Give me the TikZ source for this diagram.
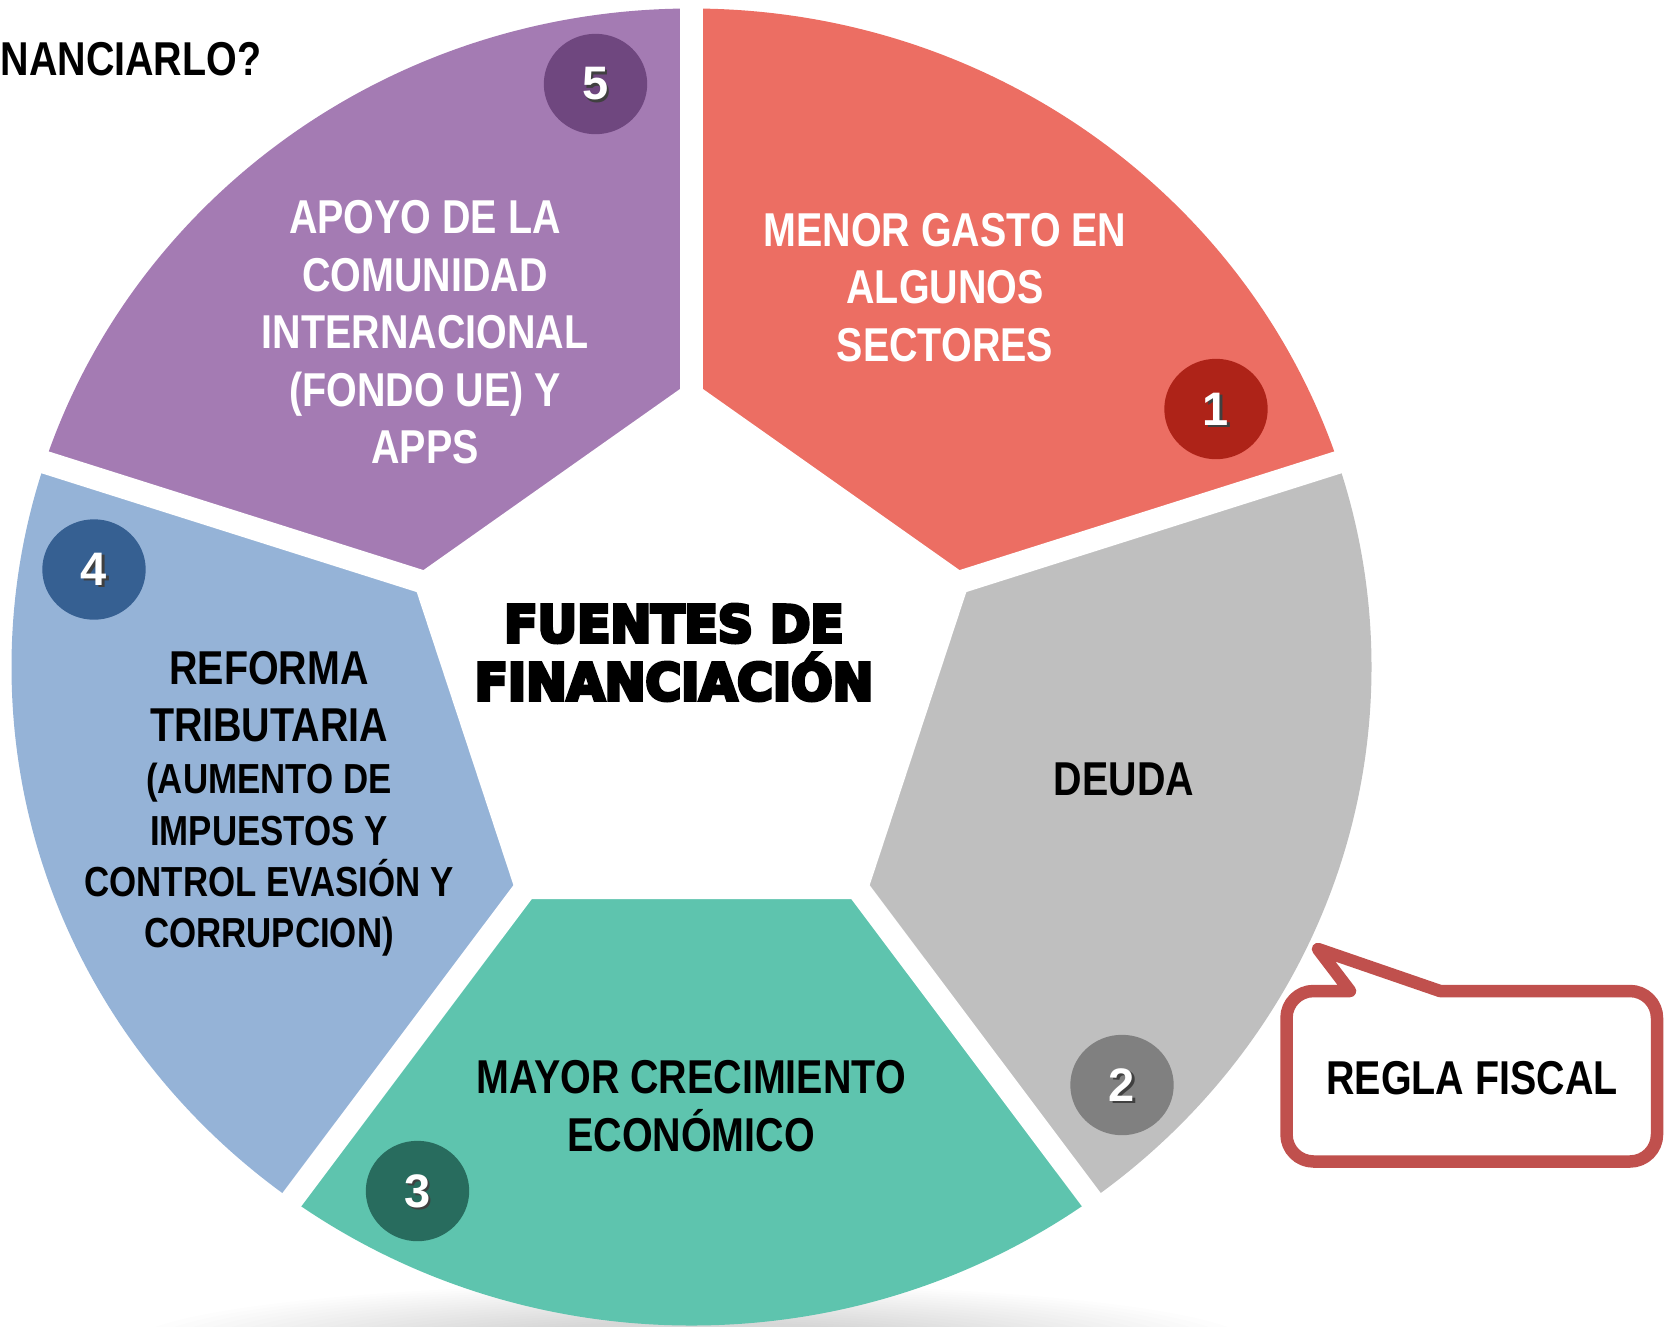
\documentclass[tikz,border=0pt]{standalone}
\usepackage{fontspec}
\usetikzlibrary{shapes.geometric}
\newfontfamily\narrow[FakeStretch=0.83]{Liberation Sans}
\newfontfamily\heavy[FakeStretch=0.96,BoldFeatures={FakeBold=7}]{DejaVu Sans}
\newfontfamily\digitfont{Liberation Sans}
\definecolor{segred}{RGB}{236,110,99}
\definecolor{numred}{RGB}{174,35,24}
\definecolor{seggray}{RGB}{191,191,191}
\definecolor{numgray}{RGB}{128,128,128}
\definecolor{segteal}{RGB}{94,196,174}
\definecolor{numteal}{RGB}{40,108,94}
\definecolor{segblue}{RGB}{149,179,215}
\definecolor{numblue}{RGB}{54,96,146}
\definecolor{segpurple}{RGB}{164,123,179}
\definecolor{numpurple}{RGB}{111,71,127}
\definecolor{calloutred}{RGB}{192,80,77}
\tikzset{
  gapline/.style={white, line width=23pt},
  numcirc/.style={ellipse, inner sep=0pt, minimum width=103.4pt, minimum height=100.4pt},
  digit/.style={inner sep=0pt, text=white, font=\digitfont\bfseries\fontsize{47}{47}\selectfont},
  digitshadow/.style={inner sep=0pt, text=black!75, font=\digitfont\bfseries\fontsize{47}{47}\selectfont},
  seglabel/.style={inner sep=0pt, anchor=base, font=\narrow\bfseries\fontsize{47.5}{57.6}\selectfont},
  titlelabel/.style={inner sep=0pt, anchor=base, font=\heavy\bfseries\fontsize{50.8}{58}\selectfont},
  callout/.style={draw=calloutred, fill=white, line width=12.5pt, line join=round}
}
\newcommand{\blk}[1]{\begin{tabular}[t]{@{}c@{}}#1\end{tabular}}
\newcommand{\smallrow}{\fontsize{42}{51.3}\selectfont}
\begin{document}
\begin{tikzpicture}[x=1pt,y=-1pt]
\useasboundingbox (0,0) rectangle (1664,1326);
\coordinate (C) at (691.5,667);

% soft shadow under the wheel
\foreach \i in {0,...,19}{
  \fill[black, opacity=0.0095] (691.5,1345) ellipse [x radius={560-18*\i}, y radius={62-2*\i}];
}

% coloured segments
\begin{scope}
  \clip (C) -- (691.5,-1500) -- (2625,-1500) -- (2625,55) -- cycle;
  \fill[segred] (C) ellipse [x radius=680, y radius=658.5];
\end{scope}
\begin{scope}
  \clip (C) -- (2625,55) -- (2625,2258) -- (1887,2258.5) -- cycle;
  \fill[seggray] (C) ellipse [x radius=680, y radius=658.5];
\end{scope}
\begin{scope}
  \clip (C) -- (1887,2258.5) -- (-501,2257) -- cycle;
  \fill[segteal] (C) ellipse [x radius=680, y radius=658.5];
\end{scope}
\begin{scope}
  \clip (C) -- (-501,2257) -- (-1242,2257) -- (-1242,55) -- cycle;
  \fill[segblue] (C) ellipse [x radius=680, y radius=658.5];
\end{scope}
\begin{scope}
  \clip (C) -- (-1242,55) -- (-1242,-1500) -- (691.5,-1500) -- cycle;
  \fill[segpurple] (C) ellipse [x radius=680, y radius=658.5];
\end{scope}

% white gaps and centre pentagon
\begin{scope}
  \clip (C) ellipse [x radius=681, y radius=659.5];
  \draw[gapline] (C) -- (691.5,-200);
  \draw[gapline] (C) -- (1658,361);
  \draw[gapline] (C) -- (1289,1463);
  \draw[gapline] (C) -- (95,1462);
  \draw[gapline] (C) -- (-275,361);
\end{scope}
\fill[white] (691.5,380.9) -- (970.9,578.1) -- (865.1,899) -- (518,899) -- (412.1,578.1) -- cycle;

% number badges
\node[numcirc, fill=numred]    (n1) at (1216,409)   {};
\node[numcirc, fill=numgray]   (n2) at (1122,1085)  {};
\node[numcirc, fill=numteal]   (n3) at (417.5,1191) {};
\node[numcirc, fill=numblue]   (n4) at (94,569.5)   {};
\node[numcirc, fill=numpurple] (n5) at (595.5,84)   {};
\foreach \n in {1,...,5}{
  \node[digitshadow] (s\n) at ([xshift=2.3pt,yshift=-2.3pt]n\n.center) {\n};
  \node[digit] (d\n) at (n\n.center) {\n};
}

% segment texts
\node[seglabel, text=white] (t1) at (945,246)
  {\blk{MENOR GASTO EN\\ALGUNOS\\SECTORES}};
\node[seglabel] (t2) at (1124,795) {DEUDA};
\node[seglabel] (t3) at (691,1093.5)
  {\blk{MAYOR CRECIMIENTO\\\smash{ECONÓMICO}}};
\node[seglabel] (t4) at (269,684)
  {\blk{REFORMA\\TRIBUTARIA\\[-5.3pt]
   {\smallrow (AUMENTO DE}\\[-6.3pt]
   {\smallrow IMPUESTOS Y}\\[-6.3pt]
   {\smallrow \smash{CONTROL EVASIÓN Y}}\\[-6.3pt]
   {\smallrow CORRUPCION)}}};
\node[seglabel, text=white] (t5) at (425,233.5)
  {\blk{APOYO DE LA\\COMUNIDAD\\INTERNACIONAL\\(FONDO UE) Y\\APPS}};

% centre title
\node[titlelabel] (title) at (674,642) {\blk{FUENTES DE\\\smash{FINANCIACIÓN}}};

% heading fragment
\node[seglabel, anchor=base west] (head) at (0.5,75) {NANCIARLO?};

% callout
\draw[callout] (1350,991) -- (1313.5,991)
  arc[start angle=270, end angle=180, radius=27] -- (1286.5,1134.5)
  arc[start angle=180, end angle=90, radius=27] -- (1630,1161.5)
  arc[start angle=90, end angle=0, radius=27] -- (1657,1018)
  arc[start angle=0, end angle=-90, radius=27] -- (1440,991)
  -- (1318,949) -- cycle;
\node[seglabel] (regla) at (1472,1094.5) {REGLA FISCAL};
\end{tikzpicture}
\end{document}
